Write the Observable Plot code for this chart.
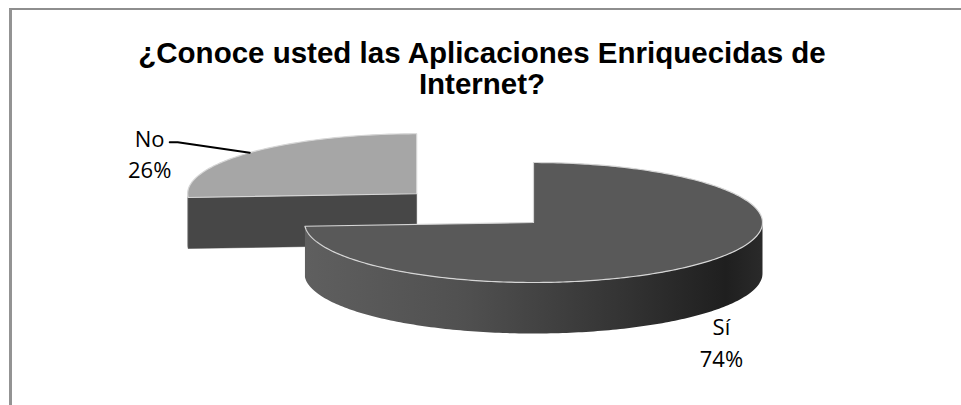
<!DOCTYPE html>
<html><head><meta charset="utf-8">
<script src="https://cdn.jsdelivr.net/npm/d3@7"></script>
<script src="https://cdn.jsdelivr.net/npm/@observablehq/plot@0.6"></script>
<style>
body{margin:0;background:#fff}
#wrap{position:relative;width:961px;height:405px;overflow:hidden;background:#fff}
#frame{position:absolute;left:9px;top:8px;width:980px;height:420px;border-top:2px solid #8e8e8e;border-left:3px solid #939393;box-sizing:border-box;pointer-events:none}
</style></head><body><div id="wrap"><div id="chart"></div><div id="frame"></div></div>
<script>
// ---- data ----
const titleLines = ["¿Conoce usted las Aplicaciones Enriquecidas de", "Internet?"];
const categories = ["Sí", "No"];
const values = [74, 26];
const explode = [0, 0.7];

// ---- layout / style constants ----
const W = 961, H = 405;
const cx = 533, cy = 222, rx = 229, ry = 60, depth = 51;
const topColors = ["#595959", "#a6a6a6"];
const wallColors = ["url(#wallGrad)", "#474747"];
const labelFont = "'Open Sans', 'Liberation Sans', sans-serif";

const total = d3.sum(values);
const arcs = d3.pie().sort(null).value(d => d)(values);

function pt(ox, oy, a, r, dz) {
  return {x: ox + rx * r * Math.sin(a), y: oy - ry * r * Math.cos(a) + dz};
}
function arcPts(ox, oy, a0, a1, dz) {
  const n = Math.max(2, Math.ceil(Math.abs(a1 - a0) / (Math.PI / 180)));
  return d3.range(n + 1).map(i => pt(ox, oy, a0 + (a1 - a0) * i / n, 1, dz));
}

const slices = arcs.map((a, i) => {
  const m = (a.startAngle + a.endAngle) / 2;
  const ox = cx + explode[i] * rx * Math.sin(m);
  const oy = cy - explode[i] * ry * Math.cos(m);
  return {i, a0: a.startAngle, a1: a.endAngle, m, ox, oy, name: categories[i], value: values[i]};
});

const marks = [];
// draw back slices first (No is behind, Sí in front)
const order = [1, 0];
for (const k of order) {
  const s = slices[k];
  const faces = [];
  if (Math.sin(s.a0) < -1e-6) {
    const c = {x: s.ox, y: s.oy}, e = pt(s.ox, s.oy, s.a0, 1, 0);
    faces.push([c, e, {x: e.x, y: e.y + depth}, {x: c.x, y: c.y + depth}, c]);
  }
  if (Math.sin(s.a1) > 1e-6) {
    const c = {x: s.ox, y: s.oy}, e = pt(s.ox, s.oy, s.a1, 1, 0);
    faces.push([c, e, {x: e.x, y: e.y + depth}, {x: c.x, y: c.y + depth}, c]);
  }
  const w0 = Math.max(s.a0, Math.PI / 2), w1 = Math.min(s.a1, 3 * Math.PI / 2);
  let wall = null;
  if (w1 > w0) {
    const topArc = arcPts(s.ox, s.oy, w0, w1, 0);
    const botArc = arcPts(s.ox, s.oy, w0, w1, depth).reverse();
    wall = [...topArc, ...botArc, topArc[0]];
    if (k === 0) {
      marks.push(Plot.line(arcPts(s.ox, s.oy, w0, w1, depth + 2), {
        x: "x", y: "y", stroke: "#9a9a9a", strokeWidth: 5, strokeOpacity: 0.6, ariaLabel: "shadow"
      }));
    }
  }
  for (const f of faces) marks.push(Plot.line(f, {x: "x", y: "y", fill: wallColors[k], stroke: wallColors[k], strokeWidth: 0.5}));
  if (wall) marks.push(Plot.line(wall, {x: "x", y: "y", fill: wallColors[k], stroke: "none"}));
  const c = {x: s.ox, y: s.oy};
  const top = [c, ...arcPts(s.ox, s.oy, s.a0, s.a1, 0), c];
  marks.push(Plot.line(top, {x: "x", y: "y", fill: topColors[k], stroke: "#d6d6d6", strokeWidth: 1.2}));
}

// labels
const labelPos = slices.map(s => {
  const A = pt(s.ox, s.oy, s.m, 1, 0);
  return s.i === 0
    ? {x: A.x + 21, y: A.y + 77.5, lead: null}
    : {x: A.x - 100, y: A.y, lead: [A, {x: A.x - 72, y: A.y - 10.5}, {x: A.x - 80, y: A.y - 10.5}]};
});
const labelData = slices.map((s, i) => ({
  x: labelPos[i].x, y: labelPos[i].y,
  text: `${s.name}\n${Math.round(s.value / total * 100)}%`
}));
for (const lp of labelPos) if (lp.lead) marks.push(Plot.line(lp.lead, {x: "x", y: "y", stroke: "#000", strokeWidth: 2}));
marks.push(Plot.text(labelData, {x: "x", y: "y", text: "text", fontSize: 22, lineHeight: 1.43, fill: "#000", fontFamily: labelFont}));

// title
marks.push(Plot.text([titleLines.join("\n")], {
  x: () => W / 2 + 1, y: () => 68, text: d => d, fontSize: 29.5, fontWeight: "bold",
  lineHeight: 1.07, fill: "#000", fontFamily: "'Liberation Sans', Arial, sans-serif"
}));

const chart = Plot.plot({
  width: W, height: H, margin: 0,
  x: {domain: [0, W], range: [0, W], axis: null},
  y: {domain: [0, H], range: [0, H], axis: null},
  style: {background: "transparent", overflow: "visible"},
  marks
});

const defs = d3.select(chart).insert("defs", ":first-child");
const g = defs.append("linearGradient").attr("id", "wallGrad").attr("x1", 0).attr("x2", 1).attr("y1", 0).attr("y2", 0);
[[0, "#5f5f5f"], [0.35, "#505050"], [0.7, "#333333"], [0.92, "#1f1f1f"], [1, "#2a2a2a"]]
  .forEach(([o, c]) => g.append("stop").attr("offset", o).attr("stop-color", c));
const f = defs.append("filter").attr("id", "blur").attr("x", "-10%").attr("y", "-50%").attr("width", "120%").attr("height", "200%");
f.append("feGaussianBlur").attr("stdDeviation", 2);
d3.select(chart).selectAll('g[aria-label="shadow"]').attr("filter", "url(#blur)");

document.getElementById("chart").appendChild(chart);
</script>
</body></html>
